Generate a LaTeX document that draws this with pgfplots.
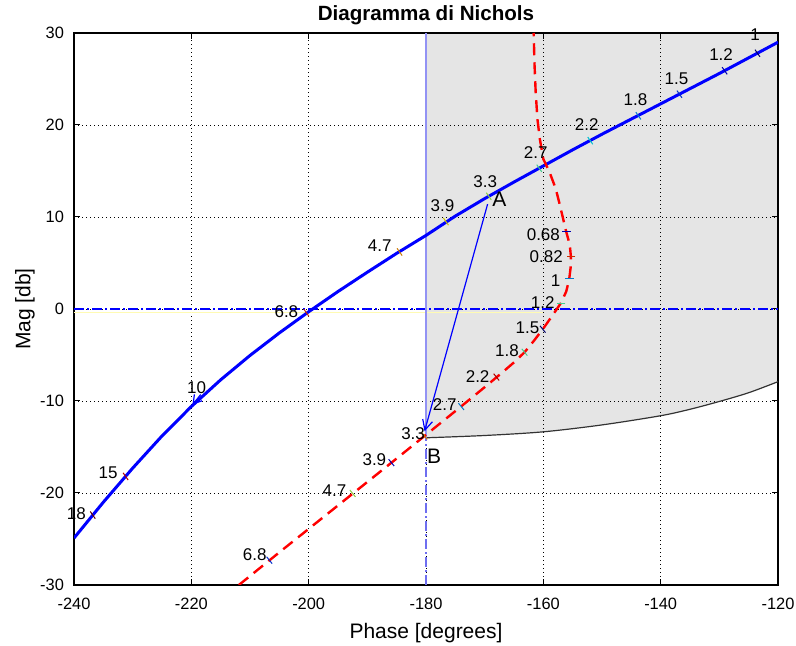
\documentclass[border=0pt]{standalone}
\usepackage{fontspec}
\setmainfont{Liberation Sans}
\usepackage{pgfplots}
\pgfplotsset{compat=1.18}
\usetikzlibrary{arrows.meta}

\definecolor{shade}{RGB}{229,229,229}
\definecolor{vline}{RGB}{110,110,240}

\begin{document}
\begin{tikzpicture}
\begin{axis}[
    name=ax,
    set layers,
    width=352pt, height=276pt, scale only axis,
    xmin=-240, xmax=-120, ymin=-30, ymax=30,
    xtick={-240,-220,...,-120},
    ytick={-30,-20,...,30},
    grid=major,
    major grid style={black, line width=0.4pt, dash pattern=on 0.4pt off 1.6pt},
    axis line style={line width=0.8pt},
    tick style={black, line width=0.5pt},
    major tick length=3pt,
    tick label style={font=\fontsize{8.2}{10}\selectfont},
    xticklabel style={yshift=-3.2pt},
    yticklabel style={xshift=-1.5pt},
    /pgf/number format/assume math mode=true,
    title={\bfseries Diagramma di Nichols},
    every axis title shift=0pt,
    title style={font=\fontsize{10.3}{12}\selectfont,
      at={(axis description cs:0.5,1.0326)}, anchor=center},
    xlabel={Phase [degrees]},
    ylabel={Mag [db]},
    label style={font=\fontsize{10.5}{12}\selectfont},
    xlabel style={at={(axis description cs:0.5,-0.087)}, anchor=center},
    ylabel style={at={(axis description cs:-0.0696,0.5)}, anchor=center},
    every node near coord/.style={font=\fontsize{8.5}{10}\selectfont, anchor=center},
    colormap/jet,
  ]

  % shaded region right of -180, above the lower boundary
  \addplot[fill=shade, draw=none, on layer=axis background] coordinates {
    (-180,30) (-120,30) (-120,-7.9) (-125,-9.1) (-130,-10.05) (-135,-10.9)
    (-140,-11.6) (-150,-12.6) (-160,-13.35) (-170,-13.75) (-180,-14.0)
  } -- cycle;

  % lower boundary
  \addplot[black!80, line width=0.6pt, smooth] coordinates {
    (-180,-14.0) (-170,-13.75) (-160,-13.35) (-150,-12.6) (-140,-11.6)
    (-135,-10.9) (-130,-10.05) (-125,-9.1) (-120,-7.9)
  };

  % reference lines
  \addplot[yellow!30!white, line width=0.7pt] coordinates {(-240,-0.35) (-160,-0.35)};
  \addplot[blue, line width=0.6pt, dash pattern=on 5pt off 1.5pt on 1pt off 1.5pt]
    coordinates {(-240,0) (-120,0)};
  \addplot[vline, line width=0.6pt, dash pattern=on 5pt off 1.5pt on 1pt off 1.5pt]
    coordinates {(-180,-30) (-180,30)};
  \addplot[vline!75, line width=0.6pt] coordinates {(-180,-14) (-180,30)};

  % open loop (blue)
  \addplot[blue, line width=1.5pt] coordinates {
    (-240,-24.9) (-235,-21.0) (-230,-17.3) (-225,-13.8) (-220,-10.6)
    (-215,-7.7) (-210,-5.05) (-205,-2.6) (-200,-0.3) (-195,1.9)
    (-190,4.0) (-185,6.05) (-180,8.0) (-175,10.1) (-170,12.0)
    (-165,13.8) (-160,15.55) (-155,17.3) (-150,19.0) (-145,20.65)
    (-140,22.3) (-135,23.95) (-130,25.6) (-125,27.3) (-120,29.0)
  };

  % compensated (red dashed)
  \addplot[red, line width=1.2pt, dash pattern=on 6pt off 3.5pt] coordinates {
    (-211.9,-30) (-205,-26.45) (-200,-23.9) (-195,-21.35) (-190,-18.8)
    (-185,-16.25) (-180.25,-13.8) (-175,-11.1) (-170,-8.5) (-167,-6.9)
    (-165,-5.8) (-163.2,-4.7) (-161.6,-3.45) (-160.1,-2.2) (-158.5,-0.75)
    (-157.0,0.65) (-156.1,1.9) (-155.6,3.2) (-155.35,4.5) (-155.3,5.7)
    (-155.5,7.0) (-156.1,8.4) (-156.7,10.0) (-157.3,11.6) (-157.9,13.1)
    (-158.9,14.8) (-160.0,16.3) (-160.6,18.5) (-161.0,20.6) (-161.3,23.5)
    (-161.5,26.5) (-161.65,30)
  };

  % frequency ticks
  \addplot[scatter, only marks, mark=|, mark size=2.2pt,
    point meta min=1, point meta max=12,
    mark options={rotate=35, line width=0.5pt}, scatter src=explicit] table[meta=c] {
    x y c
    -123.5 27.8 1
    -129.1 25.9 2
    -136.8 23.35 3
    -143.8 21.0 4
    -152.0 18.3 5
    -160.7 15.3 6
    -169.3 12.25 7
    -176.6 9.5 8
    -184.5 6.2 9
    -200.4 -0.4 10
    -231.2 -18.2 11
    -236.8 -22.4 12
  };
  \addplot[scatter, only marks, mark=|, mark size=2.2pt,
    point meta min=1, point meta max=12,
    mark options={rotate=39, line width=0.5pt}, scatter src=explicit] table[meta=c] {
    x y c
    -206.7 -27.3 3
    -192.5 -20.05 7
    -185.9 -16.7 2
    -180.25 -13.8 9
    -174.0 -10.6 4
    -168.0 -7.4 11
    -163.2 -4.7 6
    -160.1 -2.2 1
  };
  \addplot[scatter, only marks, mark=-, mark size=2.2pt,
    point meta min=1, point meta max=12,
    mark options={line width=0.5pt}, scatter src=explicit] table[meta=c] {
    x y c
    -157.0 0.65 6
    -155.55 3.3 4
    -155.3 5.7 10
    -156.1 8.4 2
  };

  % arrows
  \addplot[blue, line width=0.6pt, -{Straight Barb[length=5pt,width=5pt]}]
    coordinates {(-169.5,11.4) (-180.25,-13.3)};
  \addplot[blue, line width=0.6pt, -{Straight Barb[length=4pt,width=5pt]}]
    coordinates {(-218.4,-9.3) (-219.8,-10.4)};

  % frequency labels, blue curve
  \addplot[only marks, mark=none, nodes near coords, point meta=explicit symbolic]
    table[meta=t] {
    x y t
    -123.9 29.8 1
    -129.7 27.7 1.2
    -137.3 25.0 1.5
    -144.3 22.8 1.8
    -152.6 20.0 2.2
    -161.3 17.0 2.7
    -169.9 13.8 3.3
    -177.2 11.2 3.9
    -187.9 6.9 4.7
    -203.8 -0.3 6.8
    -219.1 -8.5 10
    -234.2 -17.8 15
    -239.6 -22.2 18
  };

  % frequency labels, red curve
  \addplot[only marks, mark=none, nodes near coords, point meta=explicit symbolic]
    table[meta=t] {
    x y t
    -160.0 8.1 0.68
    -159.5 5.7 0.82
    -157.9 3.1 1
    -160.1 0.7 1.2
    -162.7 -2.0 1.5
    -166.2 -4.5 1.8
    -171.2 -7.3 2.2
    -176.8 -10.4 2.7
    -182.2 -13.6 3.3
    -188.8 -16.4 3.9
    -195.6 -19.7 4.7
    -209.2 -26.7 6.8
  };

  \node[font=\fontsize{10.5}{12}\selectfont] at (axis cs:-167.5,11.9) {A};
  \node[font=\fontsize{10.5}{12}\selectfont] at (axis cs:-178.6,-16.0) {B};

\end{axis}
\pgfresetboundingbox
\path ([shift={(-37pt,-30.5pt)}]ax.south west) rectangle ([shift={(9pt,16.5pt)}]ax.north east);
\end{tikzpicture}
\end{document}
